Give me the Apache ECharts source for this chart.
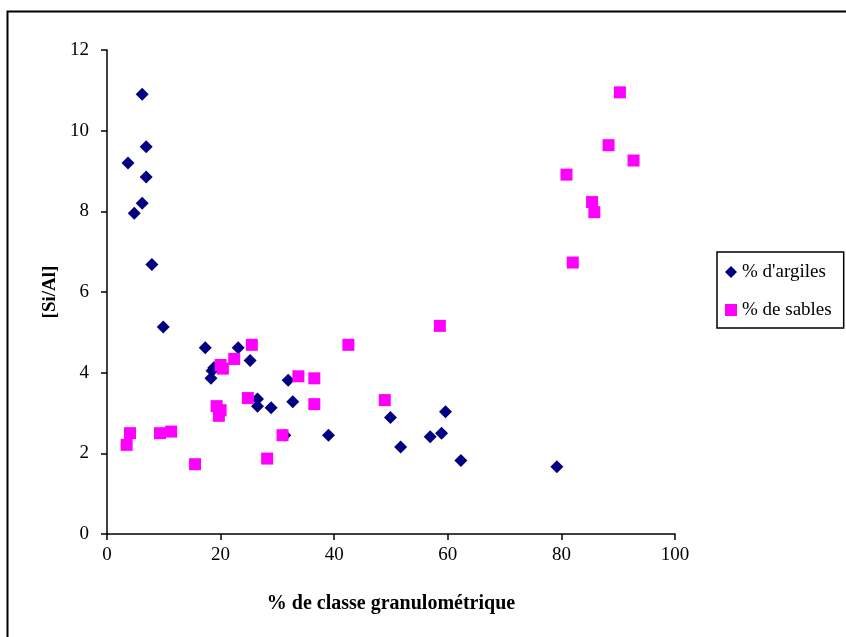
<!DOCTYPE html>
<html>
<head>
<meta charset="utf-8">
<script src="https://cdn.jsdelivr.net/npm/echarts@6/dist/echarts.min.js"></script>
<style>html,body{margin:0;padding:0;background:#fff}#c{width:846px;height:637px}</style>
</head>
<body>
<div id="c"></div>
<script>
const argilesX = [6.2, 3.7, 6.9, 6.9, 6.2, 4.8, 7.9, 9.9, 17.3, 23.1, 25.2, 18.8, 18.5, 18.3, 31.9, 32.7, 26.5, 26.5, 28.9, 31.3, 39.0, 49.9, 51.7, 59.6, 58.9, 56.9, 62.3, 79.2];
const argilesY = [10.9, 9.2, 9.6, 8.85, 8.2, 7.95, 6.68, 5.13, 4.62, 4.62, 4.3, 4.12, 4.05, 3.86, 3.81, 3.28, 3.35, 3.17, 3.13, 2.45, 2.45, 2.89, 2.16, 3.03, 2.5, 2.41, 1.82, 1.67];
const sablesX = [90.3, 92.7, 88.3, 80.9, 85.4, 85.8, 82.0, 58.6, 42.5, 25.5, 22.4, 20.0, 20.4, 33.7, 36.5, 36.5, 24.8, 19.3, 20.0, 19.7, 48.9, 30.9, 28.2, 4.05, 3.46, 9.33, 11.3, 15.5];
const sablesY = [10.95, 9.26, 9.64, 8.91, 8.23, 7.98, 6.73, 5.16, 4.69, 4.69, 4.34, 4.19, 4.1, 3.91, 3.86, 3.22, 3.37, 3.17, 3.07, 2.93, 3.32, 2.45, 1.87, 2.5, 2.21, 2.5, 2.54, 1.73];
const seriesNames = ["% d'argiles", "% de sables"];
const xTicks = [0, 20, 40, 60, 80, 100];
const yTicks = [0, 2, 4, 6, 8, 10, 12];

const F = "'Liberation Serif', 'Times New Roman', serif";
const chart = echarts.init(document.getElementById('c'), null, {renderer: 'canvas'});
const pair = (xs, ys) => xs.map((x, i) => [x, ys[i]]);
chart.setOption({
  animation: false,
  backgroundColor: '#fff',
  graphic: [{
    type: 'rect', left: 5, top: 9, shape: {width: 900, height: 700},
    style: {fill: 'none', stroke: '#000', lineWidth: 2}, silent: true
  }],
  grid: {left: 107, right: 171, top: 50, bottom: 103},
  xAxis: {
    type: 'value', min: xTicks[0], max: xTicks[xTicks.length - 1], interval: 20,
    name: '% de classe granulométrique', nameLocation: 'middle', nameGap: 60,
    nameTextStyle: {fontFamily: F, fontSize: 20, fontWeight: 'bold', color: '#000'},
    axisLine: {lineStyle: {color: '#000', width: 1.5}},
    axisTick: {show: true, length: 6, lineStyle: {color: '#000', width: 1.5}},
    axisLabel: {fontFamily: F, fontSize: 19, color: '#000', margin: 12},
    splitLine: {show: false}
  },
  yAxis: {
    type: 'value', min: yTicks[0], max: yTicks[yTicks.length - 1], interval: 2,
    name: '[Si/Al]', nameLocation: 'middle', nameGap: 43, nameRotate: 90,
    nameTextStyle: {fontFamily: F, fontSize: 19, fontWeight: 'bold', color: '#000'},
    axisLine: {show: true, lineStyle: {color: '#000', width: 1.5}},
    axisTick: {show: true, length: 6, lineStyle: {color: '#000', width: 1.5}},
    axisLabel: {fontFamily: F, fontSize: 19, color: '#000', margin: 18},
    splitLine: {show: false}
  },
  legend: {
    orient: 'vertical', left: 717, top: 252,
    borderColor: '#000', borderWidth: 1.5, backgroundColor: '#fff',
    padding: [10, 12, 8, 8], itemGap: 18, itemWidth: 12, itemHeight: 12,
    textStyle: {fontFamily: F, fontSize: 19, color: '#000', lineHeight: 20},
    data: [{name: seriesNames[0], icon: 'diamond'}, {name: seriesNames[1], icon: 'rect'}]
  },
  series: [
    {name: seriesNames[0], type: 'scatter', symbol: 'diamond', symbolSize: 13,
     itemStyle: {color: '#000080', opacity: 1}, data: pair(argilesX, argilesY), z: 2},
    {name: seriesNames[1], type: 'scatter', symbol: 'rect', symbolSize: 12,
     itemStyle: {color: '#FF00FF', opacity: 1}, data: pair(sablesX, sablesY), z: 3}
  ]
});
</script>
</body>
</html>
